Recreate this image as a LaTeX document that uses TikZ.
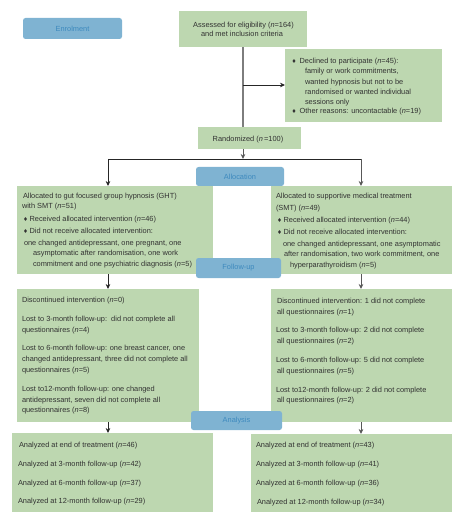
\documentclass[tikz,border=0pt]{standalone}
\usepackage{fontspec}
\setmainfont{Liberation Sans}
\newfontfamily\symfont{DejaVu Sans}
\usetikzlibrary{arrows.meta,calc}
\definecolor{boxgreen}{RGB}{189,215,176}
\definecolor{tagblue}{RGB}{127,179,210}
\definecolor{tagtext}{RGB}{62,138,190}
\definecolor{inktext}{RGB}{50,50,50}
\definecolor{thickgray}{RGB}{125,125,125}
\newcounter{lineno}
\newcommand{\n}{\textit{n}}
\newcommand{\dm}{{\symfont\scalebox{0.75}{♦}}\kern1.6pt}
\newcommand{\tl}[3]{\stepcounter{lineno}\node[txt] (line\thelineno) at (#1,#2+2.6) {#3};}
\tikzset{
  x=1pt,y=-1pt,
  gbox/.style={fill=boxgreen,draw=none,inner sep=0pt,outer sep=0pt},
  tag/.style={fill=tagblue,draw=none,rounded corners=2.5pt,inner sep=0pt,outer sep=0pt,text=tagtext,font=\fontsize{7.4}{9}\selectfont},
  txt/.style={anchor=base west,inner sep=0pt,outer sep=0pt,text=inktext,font=\fontsize{7.4}{9}\selectfont},
  ctr/.style={anchor=base,inner sep=0pt,outer sep=0pt,text=inktext,font=\fontsize{7.4}{9}\selectfont},
  heavy/.style={draw=thickgray,line width=1.5pt},
  conn/.style={draw=black!85,line width=0.75pt},
  gconn/.style={draw=thickgray!70!black,line width=0.85pt},
  tip/.style={-{Stealth[length=5pt,width=4.6pt]}},
}
\begin{document}
\begin{tikzpicture}
\useasboundingbox (0,0) rectangle (469,521);
% boxes
\node[gbox,minimum width=128pt,minimum height=36pt] (assess) at (243,29) {};
\node[gbox,minimum width=157pt,minimum height=73pt] (declined) at (363.5,85.5) {};
\node[gbox,minimum width=103pt,minimum height=22pt] (rand) at (249.5,138) {};
\node[gbox,minimum width=196pt,minimum height=88pt] (allocL) at (115,230) {};
\node[gbox,minimum width=181pt,minimum height=88pt] (allocR) at (361.5,230) {};
\node[gbox,minimum width=182pt,minimum height=133pt] (fuL) at (108,355.5) {};
\node[gbox,minimum width=181pt,minimum height=133pt] (fuR) at (361.5,355.5) {};
\node[gbox,minimum width=201pt,minimum height=79pt] (anL) at (112.5,472.5) {};
\node[gbox,minimum width=201pt,minimum height=78pt] (anR) at (351.5,473) {};
% connectors
\coordinate (branch) at (243,85);
\coordinate (splitL) at (108,159);
\coordinate (splitR) at (361,159);
\coordinate (splitM) at (243,159);
\draw[heavy] (assess.south) -- (assess.south |- rand.north);
\draw[conn,tip] (branch) -- (declined.west |- branch);
\draw[gconn,line width=1pt,tip] (splitM |- rand.south) -- (splitM);
\draw[conn] (splitL) -- (splitR);
\draw[conn,tip] (splitL) -- (splitL |- allocL.north);
\draw[gconn,tip] (splitR) -- (splitR |- allocR.north);
\draw[conn,tip] (splitL |- allocL.south) -- (splitL |- fuL.north);
\draw[gconn,tip] (splitR |- allocR.south) -- (splitR |- fuR.north);
\draw[conn,tip] (splitL |- fuL.south) -- (splitL |- anL.north);
\draw[gconn,tip] (splitR |- fuR.south) -- (splitR |- anR.north);
% phase tags
\node[tag,minimum width=99pt,minimum height=21pt] (enrol) at (72.5,28.5) {Enrolment};
\node[tag,minimum width=88pt,minimum height=19pt] (alloc) at (240,176.5) {Allocation};
\node[tag,minimum width=85pt,minimum height=20pt] (follow) at (238.5,268) {Follow-up};
\node[tag,minimum width=91pt,minimum height=19pt] (analysis) at (236.5,420.5) {Analysis};
% centred texts
\node[ctr] (a1) at (243.5,27.6) {Assessed for eligibility (\n=164)};
\node[ctr] (a2) at (242,36.6) {and met inclusion criteria};
\node[ctr] (r1) at (248,141.1) {Randomized (\n\,=100)};
% declined
\tl{291.5}{60.5}{\dm\kern1.5pt Declined to participate (\n=45):}
\tl{305}{70.5}{family or work commitments,}
\tl{305}{81.5}{wanted hypnosis but not to be}
\tl{305}{92}{randomised or wanted individual}
\tl{305}{101.5}{sessions only}
\tl{291.5}{111}{\dm\kern1.5pt Other reasons: uncontactable (\n=19)}
% allocation left
\tl{23}{195.7}{Allocated to gut focused group hypnosis (GHT)}
\tl{22}{206}{with SMT (\n=51)}
\tl{23}{218.5}{\dm Received allocated intervention (\n=46)}
\tl{23}{231}{\dm Did not receive allocated intervention:}
\tl{24}{242.5}{one changed antidepressant, one pregnant, one}
\tl{33}{252.5}{asymptomatic after randomisation, one work}
\tl{33}{263.5}{commitment and one psychiatric diagnosis (\n=5)}
% allocation right
\tl{276}{196}{Allocated to supportive medical treatment}
\tl{276}{207.5}{(SMT) (\n=49)}
\tl{277}{219.5}{\dm Received allocated intervention (\n=44)}
\tl{277}{231.5}{\dm Did not receive allocated intervention:}
\tl{283}{243.5}{one changed antidepressant, one asymptomatic}
\tl{284}{253.5}{after randomisation, two work commitment, one}
\tl{290}{265}{hyperparathyroidism (\n=5)}
% follow-up left
\tl{22}{299.5}{Discontinued intervention (\n=0)}
\tl{22}{318.5}{Lost to 3-month follow-up:\ \ did not complete all}
\tl{22}{329.5}{questionnaires (\n=4)}
\tl{22}{348}{Lost to 6-month follow-up: one breast cancer, one}
\tl{22}{358.5}{changed antidepressant, three did not complete all}
\tl{22}{369.5}{questionnaires (\n=5)}
\tl{22}{388.5}{Lost to12-month follow-up: one changed}
\tl{22}{399.5}{antidepressant, seven did not complete all}
\tl{22}{409.5}{questionnaires (\n=8)}
% follow-up right
\tl{277}{300.5}{Discontinued intervention: 1 did not complete}
\tl{277}{311.5}{all questionnaires (\n=1)}
\tl{276}{330}{Lost to 3-month follow-up: 2 did not complete}
\tl{277}{340.5}{all questionnaires (\n=2)}
\tl{276}{359.5}{Lost to 6-month follow-up: 5 did not complete}
\tl{277}{370.5}{all questionnaires (\n=5)}
\tl{276}{389.5}{Lost to12-month follow-up: 2 did not complete}
\tl{277}{399.5}{all questionnaires (\n=2)}
% analysis left
\tl{19}{444.5}{Analyzed at end of treatment (\n=46)}
\tl{18}{463.5}{Analyzed at 3-month follow-up (\n=42)}
\tl{18}{482.5}{Analyzed at 6-month follow-up (\n=37)}
\tl{18}{501}{Analyzed at 12-month follow-up (\n=29)}
% analysis right
\tl{256}{444.5}{Analyzed at end of treatment (\n=43)}
\tl{256}{463.5}{Analyzed at 3-month follow-up (\n=41)}
\tl{256}{482.5}{Analyzed at 6-month follow-up (\n=36)}
\tl{257}{501.5}{Analyzed at 12-month follow-up (\n=34)}
\end{tikzpicture}
\end{document}
